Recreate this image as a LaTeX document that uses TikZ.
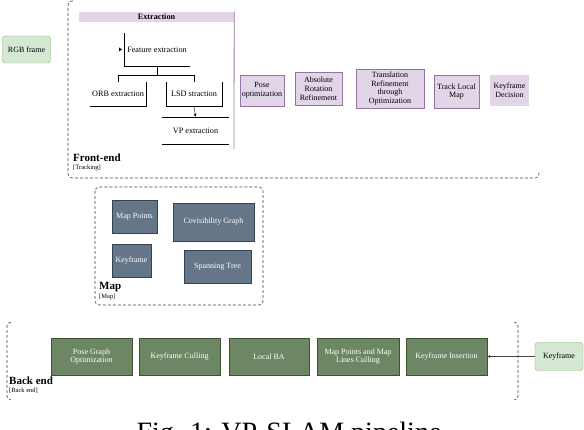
\documentclass[tikz,border=0pt]{standalone}
\usepackage{fontspec}
\setmainfont{Liberation Serif}
\usetikzlibrary{arrows.meta}

\definecolor{stagefill}{HTML}{E1D5E7}
\definecolor{stageline}{HTML}{9673A6}
\definecolor{mapfill}{HTML}{647687}
\definecolor{mapline}{HTML}{314354}
\definecolor{backfill}{HTML}{6D8764}
\definecolor{backline}{HTML}{3A5431}
\definecolor{inputfill}{HTML}{D5E8D4}
\definecolor{inputline}{HTML}{82B366}
\definecolor{groupline}{HTML}{444444}

\begin{document}
\begin{tikzpicture}[x=1pt, y=-1pt, inner sep=0pt,
    stage/.style = {draw=stageline, fill=stagefill, align=center, font=\fontsize{8}{8.8}\selectfont},
    mapbox/.style = {draw=mapline, fill=mapfill, text=white, align=center, font=\fontsize{8}{8.8}\selectfont},
    backbox/.style = {draw=backline, fill=backfill, text=white, align=center, font=\fontsize{8}{8.8}\selectfont},
    inputnode/.style = {draw=inputline, fill=inputfill, rounded corners=3pt, align=center, font=\fontsize{8}{8.8}\selectfont},
    plain/.style = {align=center, font=\fontsize{8.2}{9}\selectfont},
    group/.style = {draw=groupline, dash pattern=on 3pt off 2pt, line width=0.6pt, rounded corners=4pt},
    grouptitle/.style = {anchor=west, font=\bfseries\fontsize{11}{12}\selectfont},
    groupsub/.style = {anchor=west, font=\fontsize{6.5}{7}\selectfont}]

    \useasboundingbox (0,0) rectangle (584,430);

    % 1. Front-end (tracking)
    \draw[group] (73,1) -- (68,1) -- (68,178) -- (539,178) -- (539,173);
    \node[grouptitle] (fronttitle) at (73,158) {Front-end};
    \node[groupsub] (frontsub) at (73,168) {[Tracking]};
    \node[inputnode, minimum width=48pt, minimum height=27pt] (rgb) at (26.5,49.5) {RGB frame};

    \node[fill=stagefill, minimum width=155pt, minimum height=10pt, font=\bfseries\fontsize{8.2}{9}\selectfont] (ext) at (156.5,17) {Extraction};
    \coordinate (extend) at (234,149);
    \draw[stageline, thick] (ext.north east) -- (extend);

    \node[plain, minimum width=66pt, minimum height=33pt] (fe) at (157,49.5) {Feature extraction};
    \node[plain, minimum width=56pt, minimum height=24pt] (orb) at (118,94) {ORB extraction};
    \node[plain, minimum width=56pt, minimum height=24pt] (lsd) at (194,94) {LSD straction};
    \node[plain, minimum width=67pt, minimum height=27pt] (vp) at (195.5,130.5) {VP extraction};
    \coordinate (fein) at (116,49.5);

    \draw (fe.north west) -- (fe.south west) -- (fe.south east);
    \draw (orb.north east) -- (orb.south east) -- (orb.south west);
    \draw (lsd.north west) -- (lsd.south west) -- (lsd.south east) -- (lsd.north east);
    \draw (vp.north west) -- (vp.north east);
    \draw (vp.south west) -- (vp.south east);

    \draw (fe.south) -- ++(0,9) -| (orb.north);
    \draw (fe.south) -- ++(0,9) -| (lsd.north);
    \draw[-{Latex[length=3pt,width=3pt]}] (lsd.south) -- (vp.north);
    \fill (fein) ++(3,-2) -- ++(3,2) -- ++(-3,2) -- cycle;

    \node[stage, minimum width=44pt, minimum height=31pt] (pose) at (262,90.5) {Pose\\optimization};
    \node[stage, minimum width=47pt, minimum height=33pt] (absrot) at (318.5,88.5) {Absolute\\Rotation\\Refinement};
    \node[stage, minimum width=68pt, minimum height=39pt] (trans) at (390,88.5) {Translation\\Refinement\\through\\Optimization};
    \node[stage, minimum width=45pt, minimum height=33pt] (track) at (456.5,91.5) {Track Local\\Map};
    \node[stage, draw=none, minimum width=39pt, minimum height=31pt] (kfdec) at (509.5,90.5) {Keyframe\\Decision};

    % 2. Map
    \draw[group] (95,187) rectangle (263,305);
    \node[grouptitle] (maptitle) at (99,287) {Map};
    \node[groupsub] (mapsub) at (99,297) {[Map]};
    \node[mapbox, minimum width=45pt, minimum height=33pt] (mpoints) at (134.5,216.5) {Map Points};
    \node[mapbox, minimum width=81pt, minimum height=38pt] (covis) at (213.5,222) {Covisibility Graph};
    \node[mapbox, minimum width=39pt, minimum height=33pt] (mkf) at (131.5,260.5) {Keyframe};
    \node[mapbox, minimum width=67pt, minimum height=33pt] (span) at (217.5,266.5) {Spanning Tree};

    % 3. Back end
    \draw[group] (11,322) -- (7,322) -- (7,400) -- (11,400);
    \draw[group] (514,322) -- (518,322) -- (518,400) -- (514,400);
    \node[grouptitle] (backtitle) at (9,381) {Back end};
    \node[groupsub] (backsub) at (9,391) {[Back end]};
    \node[backbox, minimum width=81pt, minimum height=37pt] (pgo) at (91.5,356.5) {Pose Graph\\Optimization};
    \node[backbox, minimum width=81pt, minimum height=37pt] (kfcull) at (179.5,356.5) {Keyframe Culling};
    \node[backbox, minimum width=80pt, minimum height=37pt] (lba) at (269,356.5) {Local BA};
    \node[backbox, minimum width=82pt, minimum height=37pt] (mpcull) at (358,356.5) {Map Points and Map\\Lines Culling};
    \node[backbox, minimum width=81pt, minimum height=37pt] (kfins) at (446.5,356.5) {Keyframe Insertion};
    \node[inputnode, minimum width=48pt, minimum height=28pt] (kf) at (559,356.5) {Keyframe};
    \draw[-{Latex[length=3pt,width=3pt]}, groupline, thin] (kf.west) -- (kfins.east);

    % 4. Caption
    \node[anchor=base, font=\fontsize{28}{30}\selectfont] (caption) at (289,441.5) {Fig. 1: VP-SLAM pipeline};
\end{tikzpicture}
\end{document}
